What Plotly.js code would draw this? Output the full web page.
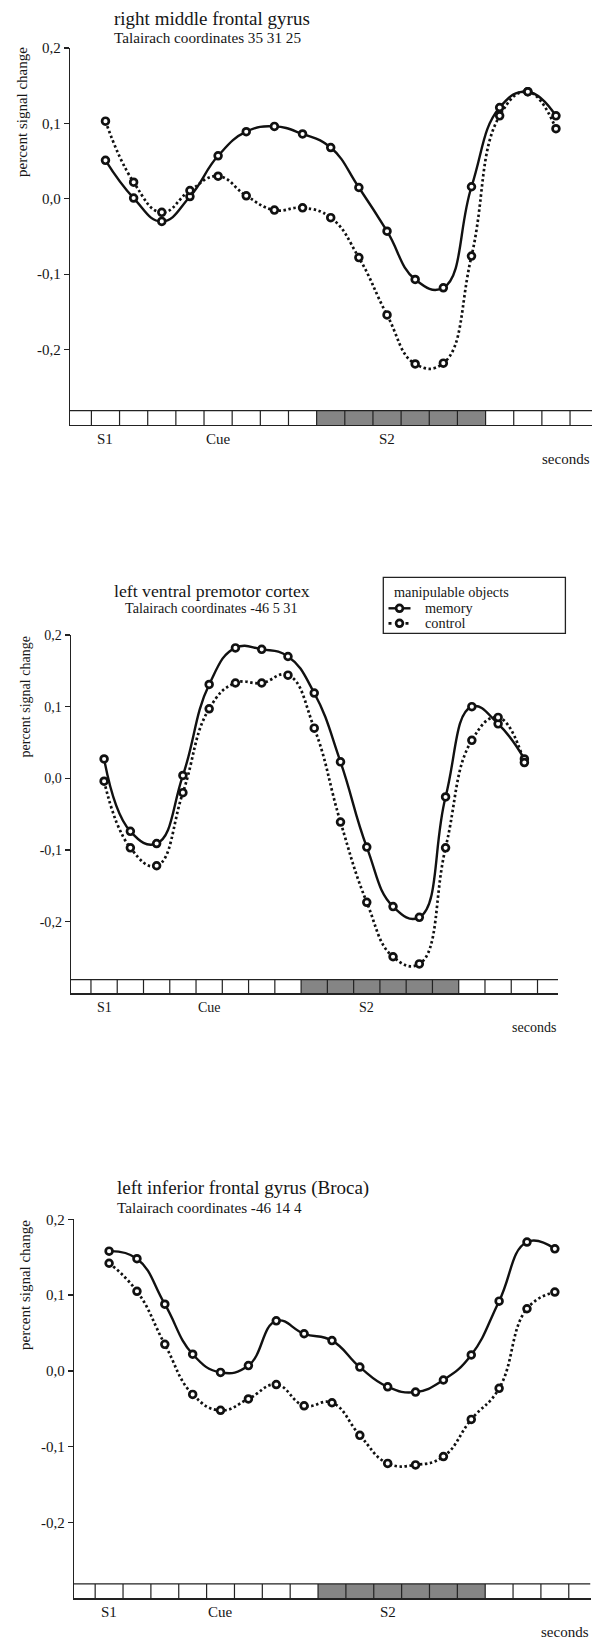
<!DOCTYPE html>
<html>
<head>
<meta charset="utf-8">
<script src="https://cdn.plot.ly/plotly-3.0.1.min.js"></script>
<style>
  html, body { margin: 0; padding: 0; background: #ffffff; }
  #chart { width: 602px; height: 1639px; }
</style>
</head>
<body>
<div id="chart"></div>
<script>
// ---------------- data ----------------
const timePoints = [0, 1, 2, 3, 4, 5, 6, 7, 8, 9, 10, 11, 12, 13, 14, 15, 16];

const rmfgMemory  = [0.051, 0.001, -0.030, 0.003, 0.057, 0.089, 0.096, 0.086, 0.068, 0.015, -0.043, -0.107, -0.118, 0.016, 0.121, 0.142, 0.110];
const rmfgControl = [0.103, 0.022, -0.018, 0.011, 0.030, 0.004, -0.015, -0.012, -0.025, -0.078, -0.154, -0.219, -0.218, -0.076, 0.110, 0.142, 0.093];

const lvpcMemory  = [0.027, -0.074, -0.091, 0.004, 0.131, 0.182, 0.180, 0.170, 0.119, 0.023, -0.096, -0.179, -0.194, -0.026, 0.100, 0.076, 0.027];
const lvpcControl = [-0.004, -0.097, -0.122, -0.020, 0.097, 0.133, 0.133, 0.144, 0.070, -0.061, -0.173, -0.249, -0.259, -0.097, 0.053, 0.085, 0.022];

const lifgMemory  = [0.158, 0.148, 0.088, 0.022, -0.002, 0.007, 0.066, 0.049, 0.040, 0.005, -0.021, -0.028, -0.012, 0.021, 0.092, 0.170, 0.161];
const lifgControl = [0.142, 0.105, 0.035, -0.031, -0.052, -0.037, -0.018, -0.046, -0.042, -0.085, -0.122, -0.124, -0.113, -0.064, -0.023, 0.082, 0.104];

const panelTitles    = ['right middle frontal gyrus', 'left ventral premotor cortex', 'left inferior frontal gyrus (Broca)'];
const panelSubtitles = ['Talairach coordinates 35 31 25', 'Talairach coordinates -46 5 31', 'Talairach coordinates -46 14 4'];
const seriesNames    = ['memory', 'control'];
const legendTitle    = 'manipulable objects';

const yTickVals   = [-0.2, -0.1, 0.0, 0.1, 0.2];
const yTickText   = ['-0,2', '-0,1', '0,0', '0,1', '0,2'];
const eventLabels = ['S1', 'Cue', 'S2'];
const eventTimes  = [0, 4, 10];
const s2Scans     = [8, 9, 10, 11, 12, 13];   // shaded scans in the time strip

// ---------------- layout helpers ----------------
const W = 602, H = 1639;
const FONT = '"Liberation Serif", "Times New Roman", serif';
const INK = '#161616';
const py = p => 1 - p / H;      // pixel y -> paper y
const px = p => p / W;          // pixel x -> paper x

const yRange = [-0.3, 0.2];
const stripTop = -0.281;
const xRange = [-1.26, 17.28];

// panel geometry (pixels) and per-panel text scale
const panels = [
  { x0: 70, x1: 592,   top: 48,     bot: 425,    titleX: 111.5, titleY: 18,   subY: 37,   center: false,
    ytX: 22, ytY: 112, fs: 1.0 },
  { x0: 71, x1: 558,   top: 635,    bot: 993.3,  titleX: 211.5, titleY: 591,  subY: 608,  center: true,
    ytX: 25, ytY: 697.5, fs: 0.935 },
  { x0: 74, x1: 590.5, top: 1219.3, bot: 1598.3, titleX: 115.4, titleY: 1188, subY: 1207, center: false,
    ytX: 25, ytY: 1285, fs: 1.0 }
];
const series = [[rmfgMemory, rmfgControl], [lvpcMemory, lvpcControl], [lifgMemory, lifgControl]];

const lineStyle = [
  { width: 2.4, dash: 'solid' },
  { width: 2.7, dash: '2.5px,2.6px' }
];
const markerStyle = { symbol: 'circle', size: 6.8, color: '#ffffff', line: { color: '#111', width: 2.7 } };

const traces = [];
const layout = {
  width: W, height: H,
  margin: { l: 0, r: 0, t: 0, b: 0 },
  paper_bgcolor: '#ffffff', plot_bgcolor: '#ffffff',
  font: { family: FONT, color: INK, size: 14 },
  showlegend: false,
  shapes: [], annotations: []
};

panels.forEach((p, k) => {
  const sfx = k === 0 ? '' : String(k + 1);
  const xa = 'x' + sfx, ya = 'y' + sfx;
  layout['xaxis' + sfx] = {
    domain: [px(p.x0), px(p.x1)], range: xRange, anchor: ya,
    showline: true, linecolor: '#222', linewidth: 1.3,
    showticklabels: false, ticks: '', showgrid: false, zeroline: false, fixedrange: true
  };
  layout['yaxis' + sfx] = {
    domain: [py(p.bot), py(p.top)], range: yRange, anchor: xa,
    showline: true, linecolor: '#222', linewidth: 1.3,
    ticks: 'outside', ticklen: 5, tickwidth: 1.2, tickcolor: '#222',
    tickvals: yTickVals, ticktext: yTickText,
    tickfont: { family: FONT, size: 15 * p.fs, color: INK },
    showgrid: false, zeroline: false, fixedrange: true
  };

  // lines: memory solid, control dotted
  series[k].forEach((vals, j) => {
    traces.push({
      type: 'scatter', mode: 'lines+markers',
      x: timePoints, y: vals, xaxis: xa, yaxis: ya,
      name: seriesNames[j], showlegend: false,
      line: { color: '#111', width: lineStyle[j].width, shape: 'spline', smoothing: 1.3, dash: lineStyle[j].dash },
      marker: markerStyle,
      cliponaxis: false
    });
  });

  // time strip
  layout.shapes.push({
    type: 'rect', xref: xa, yref: ya, layer: 'below',
    x0: s2Scans[0] - 0.5, x1: s2Scans[s2Scans.length - 1] + 0.5, y0: yRange[0], y1: stripTop,
    fillcolor: '#858585', line: { width: 0 }
  });
  layout.shapes.push({
    type: 'line', xref: xa, yref: ya, x0: xRange[0], x1: xRange[1], y0: stripTop, y1: stripTop,
    line: { color: '#222', width: 1.3 }
  });
  const edges = [timePoints[0] - 0.5].concat(timePoints.map(t => t + 0.5));
  edges.forEach(e => {
    layout.shapes.push({
      type: 'line', xref: xa, yref: ya, x0: e, x1: e, y0: yRange[0], y1: stripTop,
      line: { color: '#222', width: 1.2 }
    });
  });

  // event labels under the strip
  eventLabels.forEach((lab, i) => {
    layout.annotations.push({
      xref: xa, yref: ya, x: eventTimes[i], y: yRange[0], yshift: -14,
      xanchor: 'center', yanchor: 'middle', showarrow: false,
      text: lab, font: { family: FONT, size: 15 * p.fs, color: INK }
    });
  });
  layout.annotations.push({
    xref: 'paper', yref: 'paper', x: px(p.x1), y: py(p.bot + 34),
    xanchor: 'right', yanchor: 'middle', showarrow: false,
    text: 'seconds', font: { family: FONT, size: 15 * p.fs, color: INK }
  });

  // titles
  layout.annotations.push({
    xref: 'paper', yref: 'paper', x: px(p.titleX), y: py(p.titleY),
    xanchor: p.center ? 'center' : 'left', yanchor: 'middle', showarrow: false,
    text: panelTitles[k], font: { family: FONT, size: 19 * p.fs, color: INK }
  });
  layout.annotations.push({
    xref: 'paper', yref: 'paper', x: px(p.titleX), y: py(p.subY),
    xanchor: p.center ? 'center' : 'left', yanchor: 'middle', showarrow: false,
    text: panelSubtitles[k], font: { family: FONT, size: 15.2 * p.fs, color: INK }
  });
  // y-axis title
  layout.annotations.push({
    xref: 'paper', yref: 'paper', x: px(p.ytX), y: py(p.ytY),
    xanchor: 'center', yanchor: 'middle', showarrow: false, textangle: -90,
    text: 'percent signal change', font: { family: FONT, size: 15 * p.fs, color: INK }
  });
});

// ---------------- legend (panel 2) ----------------
const LG = { left: 383.3, right: 565.4, top: 577.3, bottom: 633.3,
             textX: 391.7, titleY: 591.7, rowY: [608.3, 623.3], lineX0: 388.5, lineX1: 410.5, markX: 399.5, itemX: 423 };
layout.shapes.push({
  type: 'rect', xref: 'paper', yref: 'paper',
  x0: px(LG.left), x1: px(LG.right), y0: py(LG.bottom), y1: py(LG.top),
  line: { color: '#222', width: 1.3 }, fillcolor: 'rgba(0,0,0,0)'
});
layout.annotations.push({
  xref: 'paper', yref: 'paper', x: px(LG.textX), y: py(LG.titleY),
  xanchor: 'left', yanchor: 'middle', showarrow: false,
  text: legendTitle, font: { family: FONT, size: 14.3, color: INK }
});
seriesNames.forEach((nm, j) => {
  const yy = py(LG.rowY[j]);
  layout.shapes.push({
    type: 'line', xref: 'paper', yref: 'paper',
    x0: px(LG.lineX0), x1: px(LG.lineX1), y0: yy, y1: yy,
    line: { color: '#111', width: lineStyle[j].width, dash: j === 0 ? 'solid' : '3px,5.5px' }
  });
  const r = markerStyle.size / 2;
  layout.shapes.push({
    type: 'circle', xref: 'paper', yref: 'paper',
    x0: px(LG.markX - r), x1: px(LG.markX + r), y0: py(LG.rowY[j] + r), y1: py(LG.rowY[j] - r),
    fillcolor: '#ffffff', line: { color: '#111', width: markerStyle.line.width }
  });
  layout.annotations.push({
    xref: 'paper', yref: 'paper', x: px(LG.itemX), y: yy,
    xanchor: 'left', yanchor: 'middle', showarrow: false,
    text: nm, font: { family: FONT, size: 14.3, color: INK }
  });
});

Plotly.newPlot('chart', traces, layout, { displayModeBar: false, staticPlot: true });
</script>
</body>
</html>
